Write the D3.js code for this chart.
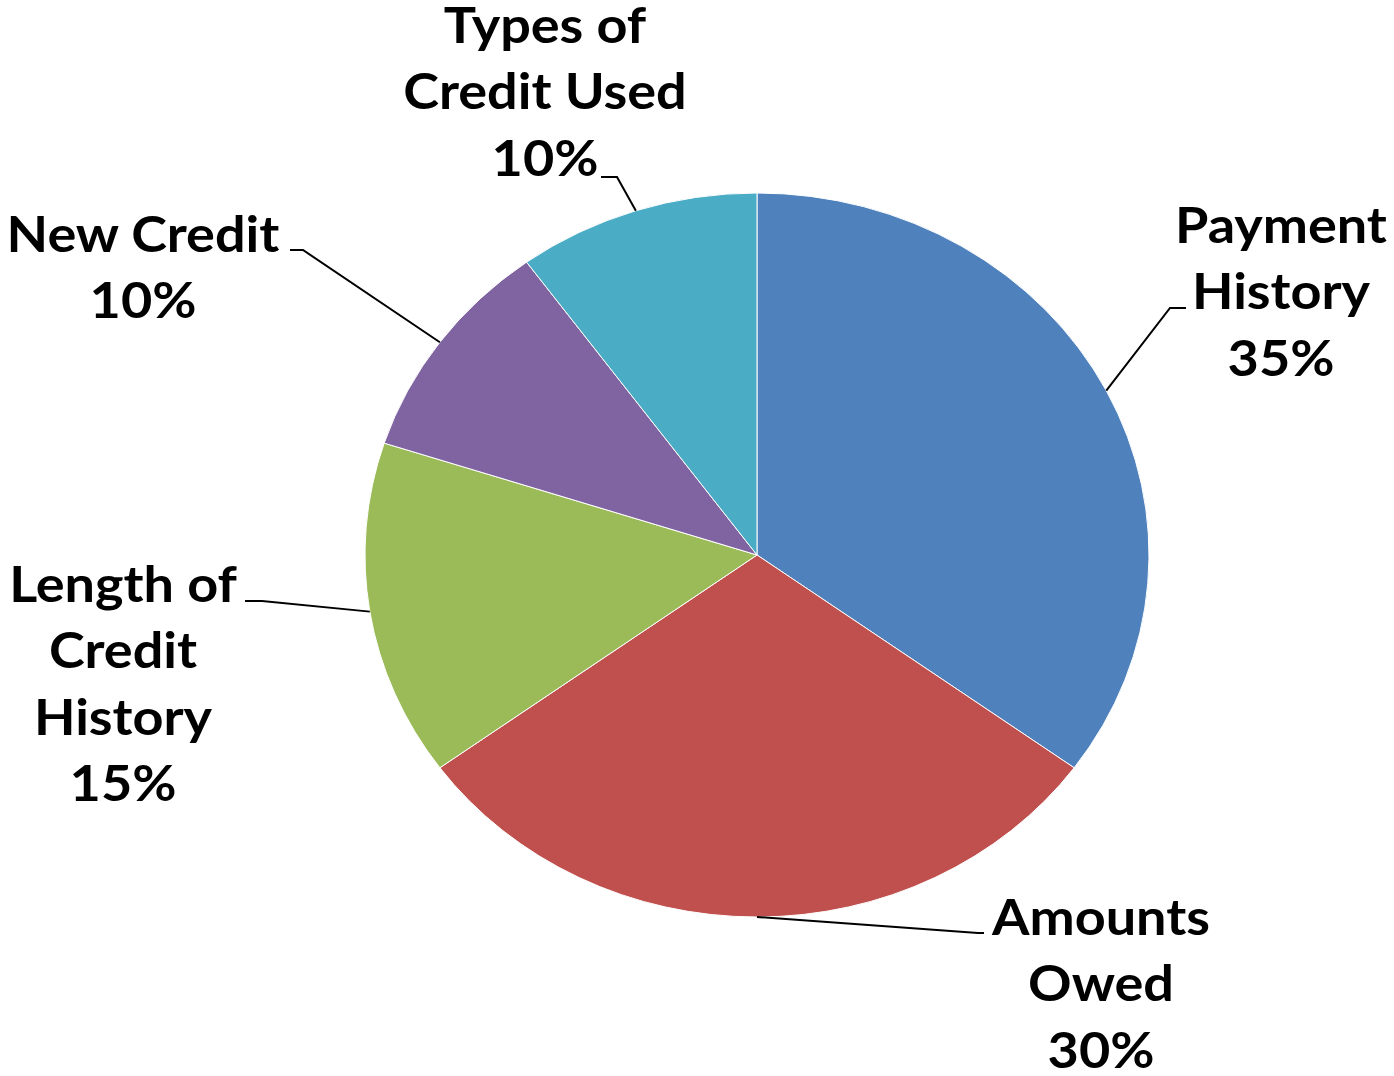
<!DOCTYPE html>
<html>
<head>
<meta charset="utf-8">
<script src="https://cdn.jsdelivr.net/npm/d3@7"></script>
<style>
  body { margin: 0; background: #fff; }
  svg { display: block; }
</style>
</head>
<body>
<svg id="chart" width="1394" height="1076"></svg>
<script>
// slices, clockwise from 12 o'clock
const categories = ["Payment History", "Amounts Owed", "Length of Credit History", "New Credit", "Types of Credit Used"];
const shares = [35, 30, 15, 10, 10];
const colors = ["#4F81BD", "#C0504D", "#9BBB59", "#8064A2", "#4BACC6"];

// how each label is broken into lines (last line is the percentage)
const labelLines = [
    ["Payment", "History"],
    ["Amounts", "Owed"],
    ["Length of", "Credit", "History"],
    ["New Credit"],
    ["Types of", "Credit Used"]
];

const width = 1394;
const height = 1076;
const cx = 757, cy = 555;
const rx = 392, ry = 362;   // the original pie is a bit stretched sideways

// label placement: text centre x, first baseline y, and where the leader line meets the text
const labelPos = [
    { x: 1281, y: 243, elbow: [1170, 308], end: [1186, 308] },
    { x: 1101, y: 935, elbow: [978, 933], end: [984, 933] },
    { x: 123, y: 602, elbow: [262, 601], end: [245, 601] },
    { x: 143, y: 252, elbow: [303, 250], end: [290, 250] },
    { x: 545, y: 43, elbow: [617, 177], end: [601, 177] }
];
const lineGap = 66.5;

const svg = d3.select("#chart");

const pie = d3.pie().sort(null).value(d => d);
const arcs = pie(shares);

const arc = d3.arc().innerRadius(0).outerRadius(rx);

const pieG = svg.append("g")
    .attr("transform", `translate(${cx},${cy}) scale(1,${ry / rx})`);

pieG.selectAll("path")
    .data(arcs)
    .enter()
    .append("path")
    .attr("d", arc)
    .attr("fill", (d, i) => colors[i])
    .attr("stroke", "#fff")
    .attr("stroke-width", 1)
    .attr("vector-effect", "non-scaling-stroke");

// point on the ellipse edge at the middle of a slice
function edgePoint(d) {
    const a = (d.startAngle + d.endAngle) / 2;
    return [cx + rx * Math.sin(a), cy - ry * Math.cos(a)];
}

// leader lines
svg.selectAll("polyline.leader")
    .data(arcs)
    .enter()
    .append("polyline")
    .attr("class", "leader")
    .attr("points", (d, i) => [edgePoint(d), labelPos[i].elbow, labelPos[i].end].map(p => p.join(",")).join(" "))
    .attr("fill", "none")
    .attr("stroke", "#000")
    .attr("stroke-width", 2);

// labels
const labels = svg.selectAll("text.label")
    .data(arcs)
    .enter()
    .append("text")
    .attr("class", "label")
    .attr("text-anchor", "middle")
    .attr("font-family", "Lato, 'Open Sans', sans-serif")
    .attr("font-weight", "bold")
    .attr("font-size", 50)
    .attr("fill", "#000")
    .attr("transform", (d, i) => `translate(${labelPos[i].x},${labelPos[i].y}) scale(1.08,1)`);

labels.each(function (d, i) {
    const lines = labelLines[i].concat([shares[i] + "%"]);
    d3.select(this).selectAll("tspan")
        .data(lines)
        .enter()
        .append("tspan")
        .attr("x", 0)
        .attr("y", (t, j) => j * lineGap)
        .text(t => t);
});
</script>
</body>
</html>
